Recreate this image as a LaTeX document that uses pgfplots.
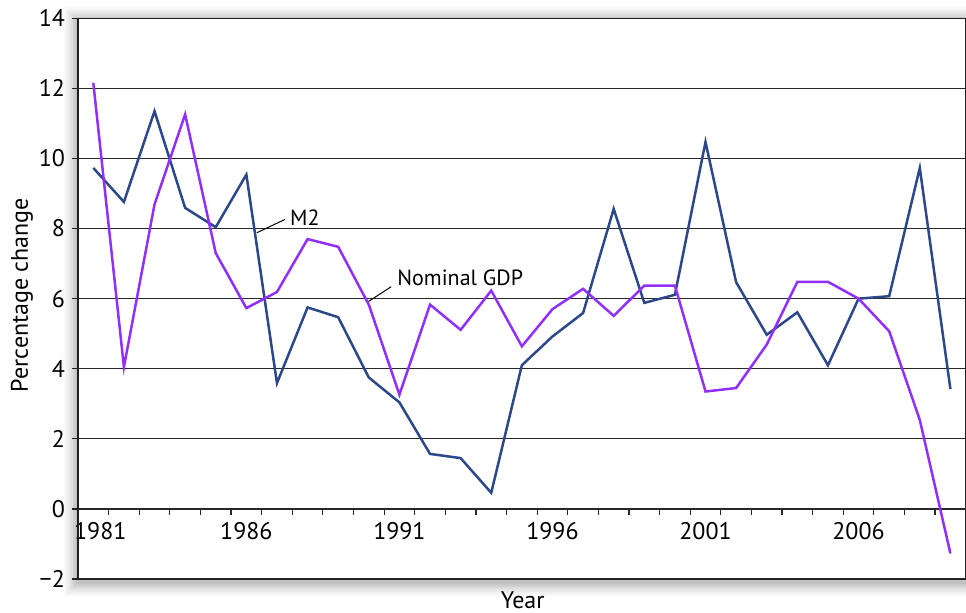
\documentclass[border=0pt]{standalone}
\usepackage{fontspec}
\setmainfont{PT Sans}
\usepackage{pgfplots}
\pgfplotsset{compat=1.18}

\definecolor{mtwo}{RGB}{44,72,138}
\definecolor{ngdp}{RGB}{145,48,250}
\definecolor{frame}{RGB}{40,40,40}

% year, growth rate (%)
\pgfplotstableread{
year m2
1981 9.73
1982 8.76
1983 11.35
1984 8.59
1985 8.04
1986 9.54
1987 3.59
1988 5.75
1989 5.47
1990 3.75
1991 3.04
1992 1.57
1993 1.45
1994 0.46
1995 4.10
1996 4.92
1997 5.59
1998 8.56
1999 5.88
2000 6.11
2001 10.47
2002 6.47
2003 4.97
2004 5.61
2005 4.10
2006 6.00
2007 6.07
2008 9.73
2009 3.42
}\mtwotable

\pgfplotstableread{
year gdp
1981 12.16
1982 4.05
1983 8.69
1984 11.26
1985 7.30
1986 5.73
1987 6.19
1988 7.70
1989 7.48
1990 5.83
1991 3.26
1992 5.83
1993 5.11
1994 6.23
1995 4.64
1996 5.70
1997 6.28
1998 5.51
1999 6.37
2000 6.37
2001 3.35
2002 3.45
2003 4.69
2004 6.48
2005 6.48
2006 6.00
2007 5.07
2008 2.54
2009 -1.27
}\gdptable

\begin{document}
\begin{tikzpicture}[font=\fontsize{11}{13}\selectfont]
\begin{axis}[
  name=ax,
  scale only axis,
  width=443.85pt, height=280.35pt,
  xmin=1980.5, xmax=2009.5,
  ymin=-2, ymax=14,
  axis x line=middle,
  axis y line=left,
  axis line style={-, line width=0.6pt, frame},
  clip=false,
  xtick={1981,1986,...,2006},
  xticklabels={\hspace*{7pt}1981,1986,1991,1996,2001,2006},
  major x tick style={draw=none},
  minor xtick={1981.5,1982.5,...,2008.5},
  ytick={-2,0,...,14},
  yticklabels={−2,0,2,4,6,8,10,12,14},
  ymajorgrids,
  grid style={line width=0.6pt, frame},
  tick align=outside,
  major tick length=3pt, minor tick length=2.8pt,
  tick style={line width=0.6pt, frame},
  minor x tick style={draw=frame, line width=0.6pt},
  ticklabel style={font=\fontsize{12}{14}\selectfont},
  label style={font=\fontsize{12}{14}\selectfont},
  xlabel={Year},
  ylabel={Percentage change},
  xlabel style={at={(rel axis cs:0.501,-0.0375)}, anchor=center},
  ylabel style={at={(rel axis cs:-0.0631,0.5065)}, anchor=center},
]
\draw[line width=0.6pt, frame] (rel axis cs:0,0) rectangle (rel axis cs:1,1);

\addplot[mtwo, line width=1.25pt, no markers] table[x=year, y=m2] {\mtwotable};
\addplot[ngdp, line width=1.25pt, no markers] table[x=year, y=gdp] {\gdptable};

\draw[line width=0.5pt] (axis cs:1986.34,7.88) -- (axis cs:1987.26,8.26);
\node[anchor=west, inner sep=0pt] at (axis cs:1987.42,8.31) {M2};
\draw[line width=0.5pt] (axis cs:1989.99,5.92) -- (axis cs:1990.73,6.34);
\node[anchor=west, inner sep=0pt] at (axis cs:1990.92,6.59) {Nominal GDP};
\end{axis}

% soft shadow around the plot frame
\foreach \d/\o in {1.2/0.07,2.4/0.06,3.6/0.05,4.8/0.04,6.0/0.03,7.2/0.025} {
  \fill[black, opacity=\o, even odd rule]
    ([shift={(-\d pt,-\d pt-1.5pt)}]ax.south west) rectangle ([shift={(\d pt,\d pt-1.5pt)}]ax.north east)
    (ax.south west) rectangle (ax.north east);
}

\pgfresetboundingbox
\path[use as bounding box] ([shift={(-39pt,-16.5pt)}]ax.south west) rectangle ([shift={(0.15pt,9.15pt)}]ax.north east);
\end{tikzpicture}
\end{document}
